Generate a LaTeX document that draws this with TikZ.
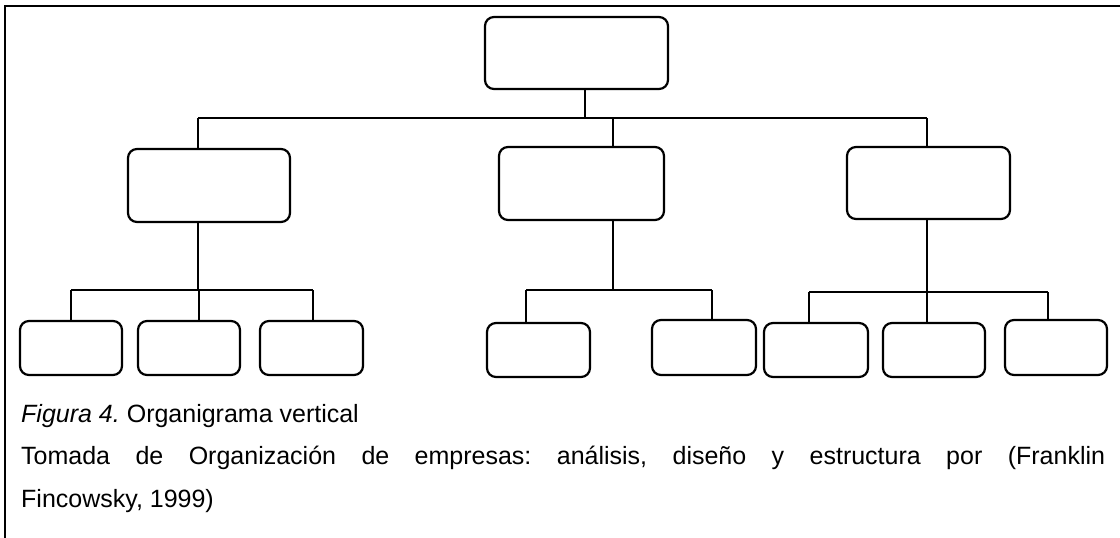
\documentclass[tikz,border=0pt]{standalone}
\usepackage{fontspec}
\setmainfont{Liberation Sans}
\begin{document}
\frenchspacing
\begin{tikzpicture}[x=1pt,y=-1pt,
  orgbox/.style={draw=black, line width=2.2pt, rounded corners=9pt, inner sep=0pt, fill=white},
  link/.style={draw=black, line width=2pt},
  frameline/.style={draw=black, line width=2.2pt},
  caption/.style={anchor=base west, inner sep=0pt, font=\fontsize{25}{43}\selectfont}]
\useasboundingbox (0,0) rectangle (1120,538);

% outer frame (top and left edges)
\draw[frameline] (5,538) -- (5,6) -- (1120,6);

% top level
\node[orgbox, minimum width=183pt, minimum height=72pt] (top) at (576.5,53) {};

% second level
\node[orgbox, minimum width=162pt, minimum height=73pt] (midL) at (209,185.5) {};
\node[orgbox, minimum width=165pt, minimum height=73pt] (midC) at (581.5,183.5) {};
\node[orgbox, minimum width=163pt, minimum height=72pt] (midR) at (928.5,183) {};

% third level
\node[orgbox, minimum width=102pt, minimum height=54pt] (b1) at (71,348) {};
\node[orgbox, minimum width=102pt, minimum height=54pt] (b2) at (189,348) {};
\node[orgbox, minimum width=103pt, minimum height=54pt] (b3) at (311.5,348) {};
\node[orgbox, minimum width=103pt, minimum height=54pt] (b4) at (538.5,350) {};
\node[orgbox, minimum width=104pt, minimum height=55pt] (b5) at (704,347.5) {};
\node[orgbox, minimum width=104pt, minimum height=54pt] (b6) at (816,350) {};
\node[orgbox, minimum width=102pt, minimum height=54pt] (b7) at (934,350) {};
\node[orgbox, minimum width=102pt, minimum height=55pt] (b8) at (1056,347.5) {};

% junction points of the connector buses
\coordinate (j0) at (585,118);
\coordinate (jL) at (198,118);
\coordinate (jC) at (613,118);
\coordinate (jR) at (927,118);

\coordinate (kL) at (198,290);
\coordinate (kL1) at (71,290);
\coordinate (kL2) at (199,290);
\coordinate (kL3) at (313,290);

\coordinate (kC) at (613,290);
\coordinate (kC1) at (526,290);
\coordinate (kC2) at (712,290);

\coordinate (kR) at (927,292);
\coordinate (kR1) at (809,292);
\coordinate (kR2) at (927,292);
\coordinate (kR3) at (1048,292);

% top to second level
\draw[link] (top.south -| j0) -- (j0);
\draw[link] (jL) -- (jR);
\draw[link] (jL) -- (jL |- midL.north);
\draw[link] (jC) -- (jC |- midC.north);
\draw[link] (jR) -- (jR |- midR.north);

% left branch
\draw[link] (midL.south -| kL) -- (kL);
\draw[link] (kL1) -- (kL3);
\draw[link] (kL1) -- (kL1 |- b1.north);
\draw[link] (kL2) -- (kL2 |- b2.north);
\draw[link] (kL3) -- (kL3 |- b3.north);

% centre branch
\draw[link] (midC.south -| kC) -- (kC);
\draw[link] (kC1) -- (kC2);
\draw[link] (kC1) -- (kC1 |- b4.north);
\draw[link] (kC2) -- (kC2 |- b5.north);

% right branch
\draw[link] (midR.south -| kR) -- (kR);
\draw[link] (kR1) -- (kR3);
\draw[link] (kR1) -- (kR1 |- b6.north);
\draw[link] (kR2) -- (kR2 |- b7.north);
\draw[link] (kR3) -- (kR3 |- b8.north);

% caption
\node[caption] (cap1) at (21,422) {\textit{Figura 4.} Organigrama vertical};
\node[caption] (cap2) at (21,464) {\makebox[1084pt][s]{Tomada de Organización de empresas: análisis, diseño y estructura por (Franklin}};
\node[caption] (cap3) at (21,507) {Fincowsky, 1999)};
\end{tikzpicture}
\end{document}
